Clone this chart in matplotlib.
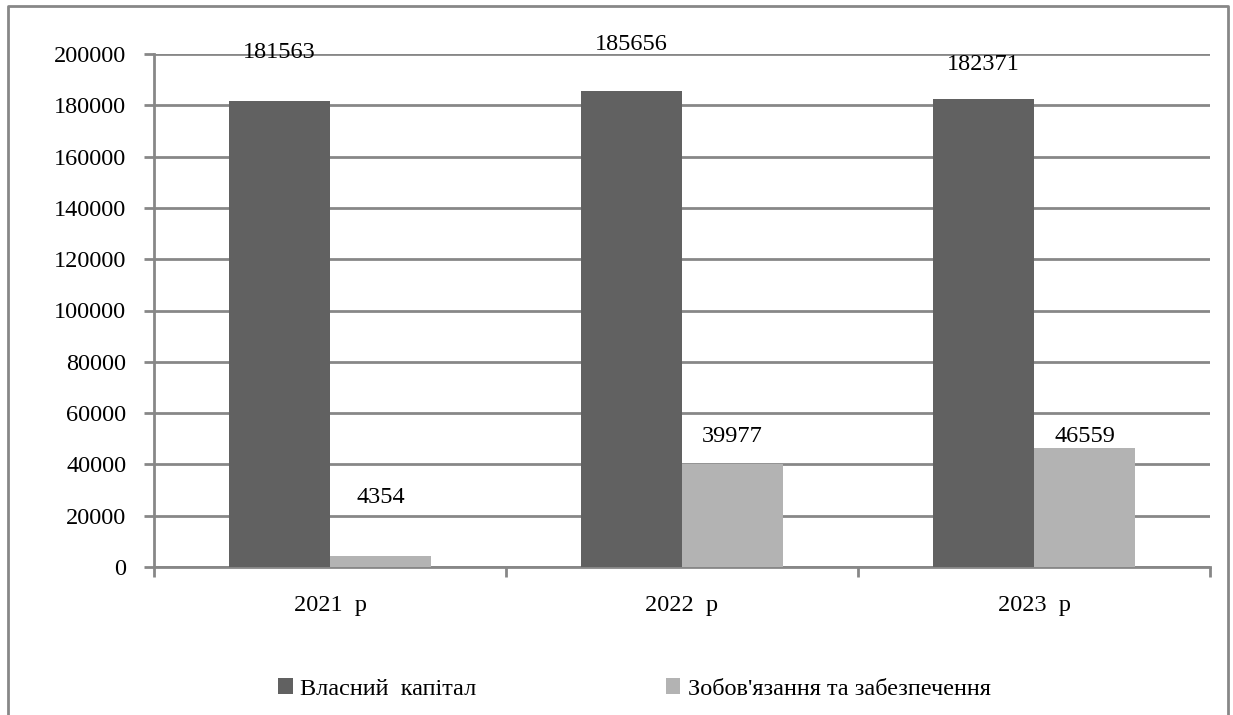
import matplotlib
matplotlib.use("Agg")
import matplotlib.pyplot as plt
from matplotlib.lines import Line2D
from matplotlib.font_manager import FontProperties
import numpy as np

plt.rcParams['font.family'] = ['Liberation Serif', 'DejaVu Serif']

years = ["2021  р", "2022  р", "2023  р"]
equity = [181563, 185656, 182371]
liabilities = [4354, 39977, 46559]
series_names = ["Власний  капітал", "Зобов'язання та забезпечення"]

DARK = "#616161"
LIGHT = "#b3b3b3"
GRID = "#878787"
FS = 17.5

fig = plt.figure(figsize=(12.33, 7.15), dpi=100)
ax = fig.add_axes([154 / 1233, 1 - 567 / 715, (1210 - 154) / 1233, (567 - 54) / 715])

x = np.arange(len(years))
w = 0.287
b1 = ax.bar(x - w / 2, equity, w, color=DARK, label=series_names[0], zorder=3)
b2 = ax.bar(x + w / 2, liabilities, w, color=LIGHT, label=series_names[1], zorder=3)

# value labels, lifted above each bar (offsets in points)
eq_off = [35, 33, 25]
li_off = [42, 20, 8]
for rect, v, off in zip(b1, equity, eq_off):
    ax.annotate(f"{v}", (rect.get_x() + rect.get_width() / 2, v),
                xytext=(0, off), textcoords="offset points",
                ha="center", va="center", fontsize=FS, color="black", zorder=4)
for rect, v, off in zip(b2, liabilities, li_off):
    ax.annotate(f"{v}", (rect.get_x() + rect.get_width() / 2, v),
                xytext=(0, off), textcoords="offset points",
                ha="center", va="center", fontsize=FS, color="black", zorder=4)

ax.set_xlim(-0.5, 2.5)
ax.set_ylim(0, 200000)
ax.set_yticks(np.arange(0, 200001, 20000))
ax.yaxis.grid(True, color=GRID, linewidth=2, zorder=0)
ax.set_axisbelow(True)

# category labels sit between the boundary ticks
ax.set_xticks([-0.5, 0.5, 1.5, 2.5])
ax.set_xticklabels([])
ax.set_xticks(x, minor=True)
ax.set_xticklabels(years, minor=True, fontsize=FS)
ax.tick_params(axis="x", which="minor", length=0, pad=20)
ax.tick_params(axis="x", which="major", length=7, width=2, color=GRID)
ax.tick_params(axis="y", length=7, width=2, color=GRID, pad=13, labelsize=FS)

for s in ["top", "right"]:
    ax.spines[s].set_visible(False)
for s in ["left", "bottom"]:
    ax.spines[s].set_color(GRID)
    ax.spines[s].set_linewidth(2)

leg_font = FontProperties(family=["Liberation Serif", "DejaVu Serif"], size=FS)
leg = fig.legend(handles=[b1, b2], loc="center left",
                 bbox_to_anchor=(278 / 1233, 1 - 689 / 715),
                 ncol=2, frameon=False, prop=leg_font, handlelength=0.6, handleheight=0.6,
                 handletextpad=0.3, columnspacing=7.8, borderaxespad=0, borderpad=0)

# outer chart frame
fx0, fx1, fy1 = 8 / 1233, 1228 / 1233, 1 - 6 / 715
fig.add_artist(Line2D([fx0, fx0, fx1, fx1], [0, fy1, fy1, 0], color=GRID,
                      linewidth=2, transform=fig.transFigure))

fig.savefig("out.png", dpi=100, facecolor="white")
